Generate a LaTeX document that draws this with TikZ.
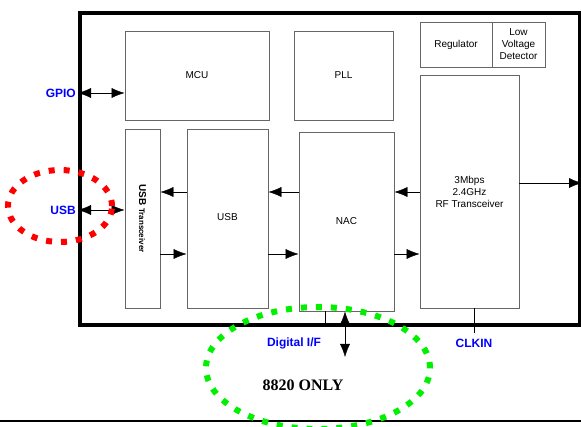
\documentclass[tikz,border=0pt]{standalone}
\usepackage{fontspec}
\setmainfont{Liberation Sans}
\newfontfamily\timesfont{Liberation Serif}
\usetikzlibrary{positioning,arrows.meta}

\definecolor{lime}{RGB}{0,240,0}

\begin{document}
\begin{tikzpicture}[x=1pt,y=-1pt,
      blk/.style={draw=black!60,line width=0.9pt,rectangle,inner sep=0pt,
        font=\fontsize{10}{12}\selectfont,align=center},
      pinlbl/.style={font=\bfseries\fontsize{12}{14}\selectfont,text=blue,inner sep=0pt},
      ring/.style={line width=6pt,dash pattern=on 6pt off 9pt},
      >={Latex[length=13pt,width=10pt]}]
    \useasboundingbox (0,0) rectangle (581,427);
    % chip outline
    \node[draw,line width=4pt,rectangle,inner sep=0pt,minimum width=500pt,minimum height=312pt](chip) at (330,169) {};
    % blocks
    \node[blk,minimum width=144pt,minimum height=89pt](mcu) at (197,75.5)  {MCU};
    \node[blk,minimum width=99pt,minimum height=89pt](pll)  at (343.5,75.5) {PLL};
    \node[blk,minimum width=72pt,minimum height=45pt](reg)  at (456,44.5)  {Regulator};
    \node[blk,minimum width=53pt,minimum height=45pt](lvd)  at (518.5,44.5) {Low\\Voltage\\Detector};
    \node[blk,minimum width=99pt,minimum height=233pt](rf)  at (469.5,191.5) {3Mbps\\2.4GHz\\RF Transceiver};
    \node[blk,minimum width=35pt,minimum height=179pt](usbt) at (142.5,218.5) {};
    \node[rotate=-90,inner sep=0pt](usbtlbl) at (usbt) {\bfseries\fontsize{10}{12}\selectfont USB \fontsize{8}{9}\selectfont Transceiver};
    \node[blk,minimum width=81pt,minimum height=179pt](usb) at (227.5,218.5) {};
    \node[font=\fontsize{10}{12}\selectfont](usblbl) at (227.5,217) {USB};
    \node[blk,minimum width=95pt,minimum height=179pt](nac) at (346.5,221.5) {NAC};
    % rows and free ends
    \coordinate (up) at (0,192);
    \coordinate (dn) at (0,254);
    \coordinate (gp) at (0,93);
    \coordinate (us) at (0,210);
    \coordinate (tx) at (0,183);
    \coordinate (dif) at (345,357);
    \coordinate (clk) at (474,333);
    % connectors
    \draw[<->](chip.west |- gp)--(mcu.west |- gp);
    \draw[<->](chip.west |- us)--(usbt.west |- us);
    \draw[->](usb.west |- up)--(usbt.east |- up);
    \draw[->](nac.west |- up)--(usb.east |- up);
    \draw[->](rf.west |- up)--(nac.east |- up);
    \draw[->](usbt.east |- dn)--(usb.west |- dn);
    \draw[->](usb.east |- dn)--(nac.west |- dn);
    \draw[->](nac.east |- dn)--(rf.west |- dn);
    \draw[->](rf.east |- tx)--(chip.east |- tx);
    \draw(nac.south -| 325,0)--(chip.south -| 325,0);
    \draw[<->](nac.south -| dif)--(dif);
    \draw(rf.south -| clk)--(clk);
    % pin labels
    \node[pinlbl,anchor=east](gpio) at (76,93) {GPIO};
    \node[pinlbl,anchor=east](usbpin) at (76,210) {USB};
    \node[pinlbl](digif) at (294,343) {Digital I/F};
    \node[pinlbl](clkin) at (474,343) {CLKIN};
    \node[font=\timesfont\bfseries\fontsize{16}{18}\selectfont](only) at (303,385) {8820 ONLY};
    % bottom rule
    \draw[line width=2.5pt](0,421)--(581,421);
    % highlights
    \draw[ring,red](60,206) ellipse [x radius=52pt,y radius=36pt];
    \draw[ring,lime](318,368) ellipse [x radius=112pt,y radius=61pt];
  \end{tikzpicture}
\end{document}
